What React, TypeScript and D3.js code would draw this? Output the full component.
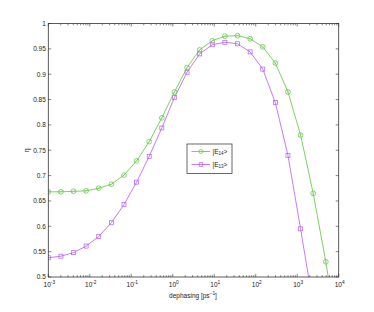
import React from "react";
import * as d3 from "d3";

// dephasing rates: 1e-3 * 2^k
const steps = d3.range(0, 24);
const dephasing = steps.map((k) => 1e-3 * Math.pow(2.014, k));

const effE14 = [
  0.668, 0.668, 0.669, 0.67, 0.675, 0.683, 0.701, 0.729, 0.767, 0.814, 0.865, 0.913,
  0.948, 0.966, 0.975, 0.976, 0.97, 0.954, 0.922, 0.865, 0.78, 0.665, 0.53, 0.375,
];
const effE13 = [
  0.538, 0.541, 0.548, 0.561, 0.58, 0.607, 0.643, 0.687, 0.738, 0.794, 0.854, 0.904,
  0.94, 0.958, 0.963, 0.96, 0.944, 0.91, 0.844, 0.74, 0.595, 0.445,
];

const yTicks = [0.5, 0.55, 0.6, 0.65, 0.7, 0.75, 0.8, 0.85, 0.9, 0.95, 1];
const xDecades = [-3, -2, -1, 0, 1, 2, 3, 4];

const GREEN = "#5cc43c";
const PURPLE = "#b45cf5";

const W = 374;
const H = 312;
const L = 48.3;
const R = 338.7;
const T = 23.5;
const B = 277;

const App = () => {
  const x = d3.scaleLog().domain([1e-3, 1e4]).range([L, R]);
  const y = d3.scaleLinear().domain([0.5, 1]).range([B, T]);

  const line = d3
    .line<[number, number]>()
    .x((d) => x(d[0]))
    .y((d) => y(d[1]));

  const s14: [number, number][] = effE14.map((v, i) => [dephasing[i], v]);
  const s13: [number, number][] = effE13.map((v, i) => [dephasing[i], v]);

  const minor: number[] = [];
  xDecades.slice(0, -1).forEach((e) => {
    for (let m = 2; m <= 9; m++) minor.push(m * Math.pow(10, e));
  });

  const font = "Liberation Sans, Arial, sans-serif";

  return (
    <svg width={W} height={H} style={{ position: "absolute", left: 0, top: 0 }} fontFamily={font}>
      <rect width={W} height={H} fill="#fff" />
      <defs>
        <clipPath id="plot">
          <rect x={L} y={T} width={R - L} height={B - T} />
        </clipPath>
      </defs>

      {/* y ticks */}
      {yTicks.map((t) => (
        <g key={t}>
          <line x1={L} x2={L + 3} y1={y(t)} y2={y(t)} stroke="#333" strokeWidth={0.6} />
          <line x1={R} x2={R - 3} y1={y(t)} y2={y(t)} stroke="#333" strokeWidth={0.6} />
          <text x={L - 2.5} y={y(t) + 2.3} fontSize={6.5} textAnchor="end" fill="#222">
            {d3.format("")(t)}
          </text>
        </g>
      ))}

      {/* x ticks */}
      {xDecades.map((e) => {
        const px = x(Math.pow(10, e));
        return (
          <g key={e}>
            <line x1={px} x2={px} y1={B} y2={B - 3} stroke="#333" strokeWidth={0.6} />
            <line x1={px} x2={px} y1={T} y2={T + 3} stroke="#333" strokeWidth={0.6} />
            <text x={px + 1} y={287} fontSize={6.5} textAnchor="middle" fill="#222">
              10
              <tspan dy={-3.5} fontSize={4.8}>
                {e}
              </tspan>
            </text>
          </g>
        );
      })}
      {minor.map((m, i) => (
        <g key={i}>
          <line x1={x(m)} x2={x(m)} y1={B} y2={B - 1.8} stroke="#333" strokeWidth={0.6} />
          <line x1={x(m)} x2={x(m)} y1={T} y2={T + 1.8} stroke="#333" strokeWidth={0.6} />
        </g>
      ))}

      {/* series */}
      <g clipPath="url(#plot)">
        <path d={line(s14) ?? ""} fill="none" stroke={GREEN} strokeWidth={0.8} />
        <path d={line(s13) ?? ""} fill="none" stroke={PURPLE} strokeWidth={0.8} />
        {s14.map((d, i) => (
          <g key={i}>
            <circle cx={x(d[0])} cy={y(d[1])} r={2.4} fill="none" stroke={GREEN} strokeWidth={0.7} />
            <line x1={x(d[0]) - 1.7} y1={y(d[1]) + 1.7} x2={x(d[0]) + 1.7} y2={y(d[1]) - 1.7} stroke={GREEN} strokeWidth={0.5} />
          </g>
        ))}
        {s13.map((d, i) => (
          <rect key={i} x={x(d[0]) - 2} y={y(d[1]) - 2} width={4} height={4} fill="none" stroke={PURPLE} strokeWidth={0.7} />
        ))}
      </g>

      {/* frame */}
      <rect x={L} y={T} width={R - L} height={B - T} fill="none" stroke="#333" strokeWidth={0.8} />

      {/* labels */}
      <text x={193} y={298} fontSize={6.5} textAnchor="middle" fill="#222">
        dephasing [ps
        <tspan dy={-3} fontSize={4.8}>−1</tspan>
        <tspan dy={3}>]</tspan>
      </text>
      <text transform={`translate(29,${(T + B) / 2}) rotate(-90)`} fontSize={7} textAnchor="middle" fill="#222">
        η
      </text>

      {/* legend */}
      <rect x={187} y={144} width={45} height={29.5} fill="#fff" stroke="#444" strokeWidth={0.8} />
      <line x1={191.5} x2={210} y1={151.5} y2={151.5} stroke={GREEN} strokeWidth={0.8} />
      <circle cx={201} cy={151.5} r={2} fill="none" stroke={GREEN} strokeWidth={0.7} />
      <text x={212.5} y={153.5} fontSize={6.5} fill="#222">
        |E<tspan dy={1.8} fontSize={4.5}>14</tspan>
        <tspan dy={-1.8}>&gt;</tspan>
      </text>
      <line x1={191.5} x2={210} y1={164.5} y2={164.5} stroke={PURPLE} strokeWidth={0.8} />
      <rect x={199.2} y={162.7} width={3.6} height={3.6} fill="none" stroke={PURPLE} strokeWidth={0.7} />
      <text x={212.5} y={166.5} fontSize={6.5} fill="#222">
        |E<tspan dy={1.8} fontSize={4.5}>13</tspan>
        <tspan dy={-1.8}>&gt;</tspan>
      </text>
    </svg>
  );
};

export default App;
